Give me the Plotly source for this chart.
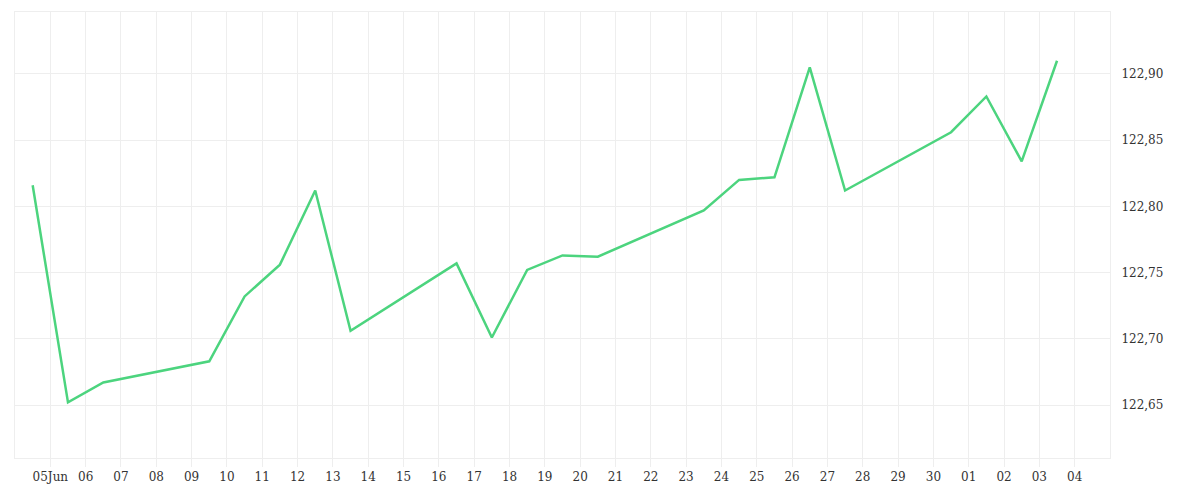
import plotly.graph_objects as go
import pandas as pd

dates = ["2025-06-04 12:00","2025-06-05 12:00","2025-06-06 12:00","2025-06-09 12:00","2025-06-10 12:00",
         "2025-06-11 12:00","2025-06-12 12:00","2025-06-13 12:00","2025-06-16 12:00","2025-06-17 12:00",
         "2025-06-18 12:00","2025-06-19 12:00","2025-06-20 12:00","2025-06-23 12:00","2025-06-24 12:00",
         "2025-06-25 12:00","2025-06-26 12:00","2025-06-27 12:00","2025-06-30 12:00","2025-07-01 12:00",
         "2025-07-02 12:00","2025-07-03 12:00"]
values = [122.816,122.652,122.667,122.683,122.732,122.756,122.812,122.706,122.757,122.701,
          122.752,122.763,122.762,122.797,122.820,122.822,122.905,122.812,122.856,122.883,
          122.834,122.910]

tick_dates = pd.date_range("2025-06-05", "2025-07-04", freq="D")
tick_labels = ["05Jun"] + [d.strftime("%d") for d in tick_dates[1:]]

fig = go.Figure(go.Scatter(x=pd.to_datetime(dates), y=values, mode="lines",
                           line=dict(color="#4cd47e", width=2.5), hoverinfo="skip"))
grid = "#eeeeee"
fig.update_layout(
    width=1200, height=500, margin=dict(l=7, r=98, t=4, b=50),
    plot_bgcolor="white", paper_bgcolor="white", showlegend=False,
    separators=",.",
    font=dict(family="DejaVu Serif", size=12, color="#333"),
    xaxis=dict(range=["2025-06-04", "2025-07-05"], tickvals=tick_dates, ticktext=tick_labels,
               showgrid=True, gridcolor=grid, gridwidth=1, ticks="outside", ticklen=8,
               tickcolor=grid, showline=True, linecolor=grid, mirror=True, zeroline=False,
               automargin=False),
    yaxis=dict(side="right", range=[122.61, 122.9468], dtick=0.05, tick0=122.65, tickformat=".2f",
               showgrid=True, gridcolor=grid, gridwidth=1, showline=True, linecolor=grid,
               mirror=True, zeroline=False, ticklabelstandoff=8, automargin=False),
)
fig.write_html("out.html")
